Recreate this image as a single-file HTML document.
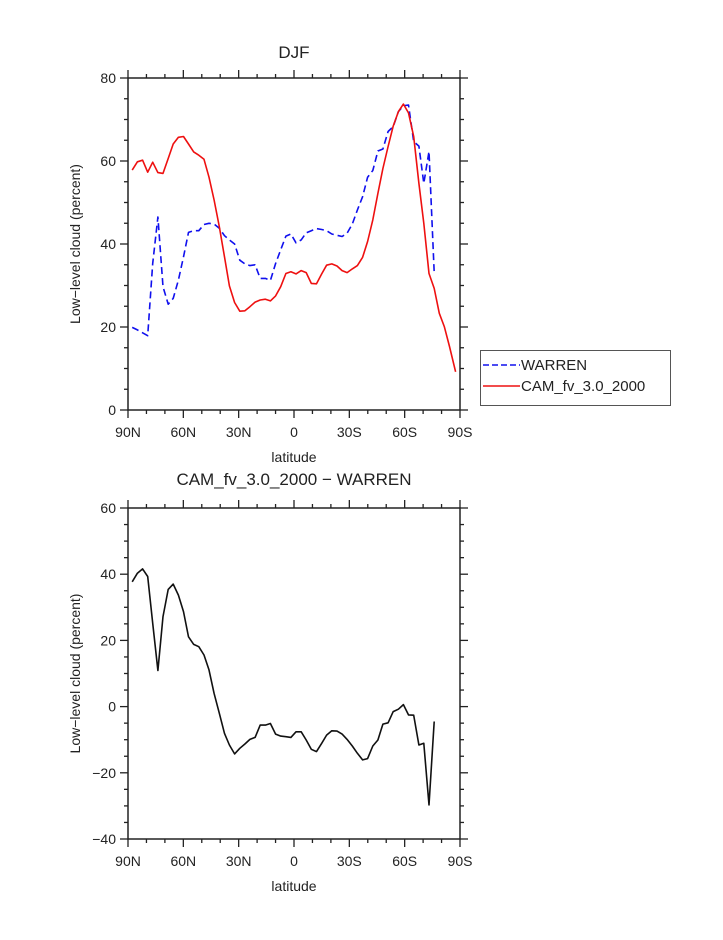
<!DOCTYPE html>
<html><head><meta charset="utf-8"><style>
body{margin:0;background:#fff;width:723px;height:935px;overflow:hidden}
svg text{font-family:"Liberation Sans",sans-serif;fill:#222}
</style></head><body>
<svg id="chart" width="723" height="935" xmlns="http://www.w3.org/2000/svg"></svg>
<script>
const lats=[87.7,84.9,82.1,79.3,76.6,73.8,71.0,68.2,65.5,62.7,59.9,57.2,54.4,51.6,48.8,46.1,43.3,40.5,37.7,35.0,32.2,29.4,26.6,23.9,21.1,18.3,15.5,12.8,10.0,7.2,4.4,1.7,-1.1,-3.9,-6.6,-9.4,-12.2,-15.0,-17.7,-20.5,-23.3,-26.1,-28.8,-31.6,-34.4,-37.2,-39.9,-42.7,-45.5,-48.2,-51.0,-53.8,-56.6,-59.3,-62.1,-64.9,-67.7,-70.4,-73.2,-76.0,-78.8,-81.5,-84.3,-87.6];
const camVals=[57.8,59.8,60.2,57.3,59.7,57.2,57.0,60.6,64.1,65.7,65.9,64.1,62.2,61.4,60.4,56.1,50.6,44.2,36.9,29.9,25.9,23.8,23.9,24.9,26.0,26.5,26.7,26.3,27.5,29.7,32.9,33.3,32.8,33.6,33.1,30.5,30.4,32.8,34.9,35.2,34.7,33.6,33.1,34.0,34.8,36.8,40.6,45.8,52.2,58.2,63.5,68.4,71.9,73.7,71.6,65.9,54.6,45.0,32.9,29.3,23.3,20.1,15.3,9.2];
const warrenVals=[19.9,19.3,18.6,17.9,35.3,46.5,29.7,25.5,26.9,31.3,36.9,42.8,43.2,43.2,44.7,45.0,44.8,43.8,42.0,41.0,40.0,36.1,35.2,34.8,35.0,31.7,31.7,31.2,35.3,38.6,41.9,42.4,40.3,41.0,42.7,43.2,43.7,43.5,43.2,42.4,42.1,41.8,42.6,44.8,48.2,51.4,56.1,57.7,62.4,62.9,67.1,68.3,71.9,73.3,73.5,64.7,63.6,54.6,62.3,33.1];
const diffVals=[37.7,40.3,41.6,39.3,25.2,10.9,27.2,35.4,37.0,33.7,28.7,21.1,18.8,18.1,15.6,11.1,4.0,-2.0,-8.1,-11.6,-14.3,-12.6,-11.3,-9.9,-9.3,-5.6,-5.6,-5.1,-8.3,-8.9,-9.1,-9.3,-7.6,-7.6,-10.1,-12.9,-13.6,-11.1,-8.6,-7.3,-7.4,-8.3,-9.9,-11.9,-14.1,-16.1,-15.7,-11.9,-10.1,-5.3,-4.9,-1.5,-0.8,0.6,-2.5,-2.6,-11.6,-11.1,-29.7,-4.5];
const xTickLabels=["90N","60N","30N","0","30S","60S","90S"];
const topYTicks=[0,20,40,60,80];
const botYTicks=[-40,-20,0,20,40,60];

const svg=document.getElementById('chart');
const NS='http://www.w3.org/2000/svg';
function mk(tag,attrs,parent){const e=document.createElementNS(NS,tag);for(const k in attrs)e.setAttribute(k,attrs[k]);(parent||svg).appendChild(e);return e;}
const X0=128,X1=460;
function xs(lat){return X0+(90-lat)/180*(X1-X0);}

function panel(name,yTop,yBot,vmin,vmax,yTicks){
  const g=mk('g',{});
  
  
  const ys=v=>yBot-(v-vmin)/(vmax-vmin)*(yBot-yTop);
  const fr=mk('rect',{x:X0,y:yTop,width:X1-X0,height:yBot-yTop,fill:'none',stroke:'#222','stroke-width':1.5},g);
  
  
  // x ticks
  for(let d=0;d<=180;d+=10){
    const x=X0+d/180*(X1-X0);const L=d%30===0?8:4;
    mk('line',{x1:x,x2:x,y1:yBot,y2:yBot+L,stroke:'#222','stroke-width':1.3},g);
    mk('line',{x1:x,x2:x,y1:yTop,y2:yTop-L,stroke:'#222','stroke-width':1.3},g);
  }
  xTickLabels.forEach((t,i)=>{
    const tx=mk('text',{x:X0+i*30/180*(X1-X0),y:yBot+27,'text-anchor':'middle','font-size':14},g);
    tx.textContent=t;
    
    
  });
  for(let v=vmin;v<=vmax;v+=5){
    const y=ys(v);const L=(v%20===0)?8:4;
    mk('line',{x1:X0,x2:X0-L,y1:y,y2:y,stroke:'#222','stroke-width':1.3},g);
    mk('line',{x1:X1,x2:X1+L,y1:y,y2:y,stroke:'#222','stroke-width':1.3},g);
  }
  yTicks.forEach(v=>{
    const tx=mk('text',{x:X0-12,y:ys(v)+5,'text-anchor':'end','font-size':14},g);
    tx.textContent=(v<0?'\u2212'+(-v):v);
    
    
  });
  const yt=mk('text',{x:0,y:0,'text-anchor':'middle','font-size':14,transform:`translate(80,${(yTop+yBot)/2}) rotate(-90)`},g);
  yt.textContent='Low\u2212level cloud (percent)';
  
  
  const xt=mk('text',{x:294,y:yBot+52,'text-anchor':'middle','font-size':14},g);
  xt.textContent='latitude';
  
  
  return ys;
}
function line(vals,ys,color,dash,name){
  const pts=vals.map((v,i)=>xs(lats[i]).toFixed(1)+','+ys(v).toFixed(1)).join(' ');
  const p=mk('polyline',{points:pts,fill:'none',stroke:color,'stroke-width':1.6,'stroke-dasharray':dash||'none','stroke-linejoin':'round'});
  
  
}
const ysT=panel('top-panel',78,410,0,80,topYTicks);
line(warrenVals,ysT,'#1010ee','7,4','warren-line');
line(camVals,ysT,'#ee1010',null,'cam-line');
const ysB=panel('bottom-panel',508,839,-40,60,botYTicks);
line(diffVals,ysB,'#111',null,'difference-line');

let t=mk('text',{x:294,y:58,'text-anchor':'middle','font-size':17});t.textContent='DJF';


t=mk('text',{x:294,y:485,'text-anchor':'middle','font-size':17});t.textContent='CAM_fv_3.0_2000 \u2212 WARREN';


// legend
const lg=mk('g',{});


mk('rect',{x:480.5,y:350.5,width:190,height:55,fill:'#fff',stroke:'#555','stroke-width':1},lg);
const e1=mk('line',{x1:483,x2:520,y1:365,y2:365,stroke:'#1010ee','stroke-width':1.5,'stroke-dasharray':'6,3'},lg);


const e2=mk('line',{x1:483,x2:520,y1:386,y2:386,stroke:'#ee1010','stroke-width':1.5},lg);


t=mk('text',{x:521,y:370,'font-size':15},lg);t.textContent='WARREN';


t=mk('text',{x:521,y:391,'font-size':15},lg);t.textContent='CAM_fv_3.0_2000';


</script>
</body></html>
